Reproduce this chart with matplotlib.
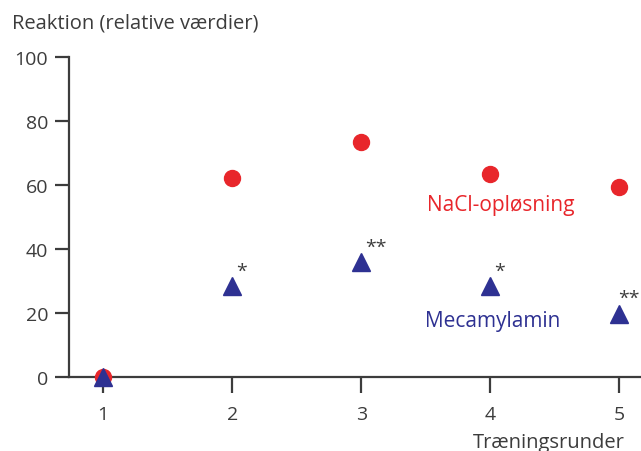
import matplotlib
matplotlib.use("Agg")
import matplotlib.pyplot as plt

# data
runder = [1, 2, 3, 4, 5]
nacl = [0, 62.2, 73.4, 63.4, 59.5]
mecamylamin = [0, 28.3, 35.8, 28.3, 19.6]
stjerner = ["", "*", "**", "*", "**"]

red = "#e8262b"
blue = "#2e3192"
grey = "#3c3c3c"

plt.rcParams['font.family'] = ['Open Sans', 'DejaVu Sans']

fig = plt.figure(figsize=(6.41, 4.52), dpi=100)
ax = fig.add_axes([69 / 641, 74 / 452, 571 / 641, 320 / 452])

ax.plot(runder, nacl, 'o', color=red, markersize=11.5, clip_on=False, zorder=3)
ax.plot(runder, mecamylamin, '^', color=blue, markersize=13.5, clip_on=False, zorder=4)

# significance stars, the last one sits right at the figure edge
for i, (x, y, s) in enumerate(zip(runder, mecamylamin, stjerner)):
    if s:
        dx = -0.5 if i == len(runder) - 1 else 3
        ax.annotate(s, (x, y), xytext=(dx, 5), textcoords='offset points',
                    fontsize=14, color=grey, ha='left', va='bottom')

ax.text(4.08, 54, "NaCl-opløsning", color=red, fontsize=15, ha='center', va='center')
ax.text(4.02, 17.8, "Mecamylamin", color=blue, fontsize=15, ha='center', va='center')

ax.set_xlim(0.736, 5.16)
ax.set_ylim(0, 100)
ax.set_xticks(runder)
ax.set_yticks([0, 20, 40, 60, 80, 100])

for side in ['top', 'right']:
    ax.spines[side].set_visible(False)
for side in ['left', 'bottom']:
    ax.spines[side].set_color(grey)
    ax.spines[side].set_linewidth(1.6)
ax.spines['left'].set_bounds(0, 100)

ax.tick_params(axis='both', colors=grey, width=1.6, labelsize=14, labelcolor=grey)
ax.tick_params(axis='y', length=10, pad=5)
ax.tick_params(axis='x', length=11.5, pad=8.5)

fig.text(12 / 641, 1 - 24 / 452, "Reaktion (relative værdier)", fontsize=14.5,
         color=grey, ha='left', va='center')
fig.text(625 / 641, 1 - 448 / 452, "Træningsrunder", fontsize=14.5,
         color=grey, ha='right', va='baseline')

fig.savefig("out.png", dpi=100)
